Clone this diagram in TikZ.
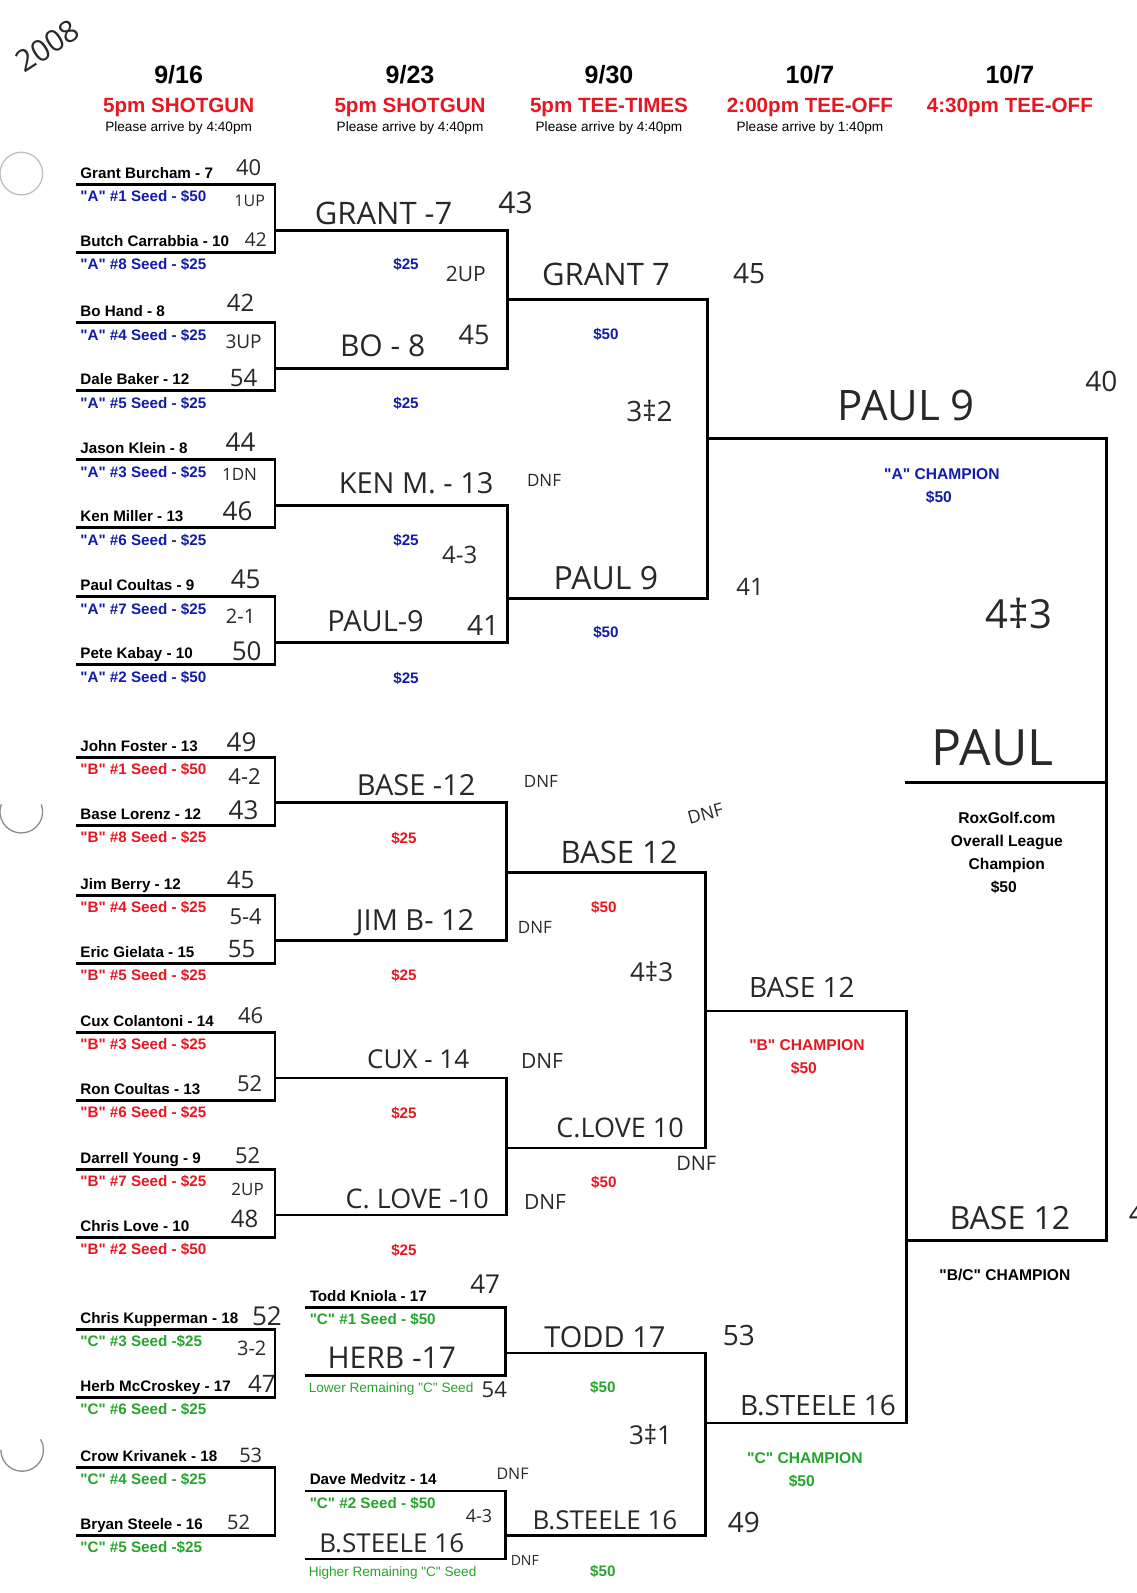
\documentclass[tikz,border=0pt]{standalone}
\usepackage{fontspec}
\setmainfont{Liberation Sans}[Ligatures=TeXOff]
\newfontfamily\hand{Open Sans}
\definecolor{hdrred}{RGB}{232,22,32}
\definecolor{ablue}{RGB}{18,28,168}
\definecolor{bred}{RGB}{232,22,32}
\definecolor{cgreen}{RGB}{38,164,44}
\definecolor{ink}{RGB}{40,40,44}
\newcommand\RoundOne[7]{%
  \coordinate (#1tl) at (76,#2);
  \coordinate (#1tr) at (271,#2);
  \coordinate (#1br) at (271,{#2+67});
  \coordinate (#1bl) at (76,{#2+67});
  \coordinate (#1out) at (271,{#2+45});
  \draw[br] (#1tl) -- (#1tr) -- (#1br) -- (#1bl);
  \node[pname] (#1n1) at (79,{#2-6}) {#3};
  \node[pname,text=#7] (#1s1) at (79,{#2+17}) {#4};
  \node[pname] (#1n2) at (79,{#2+61}) {#5};
  \node[pname,text=#7] (#1s2) at (79,{#2+84}) {#6};
}
\begin{document}
\begin{tikzpicture}[x=1.015pt,y=-1.015pt,
  br/.style={line width=2.8pt,line join=miter,line cap=rect},
  pname/.style={font=\bfseries\fontsize{15.2}{17}\selectfont,anchor=base west,inner sep=0pt},
  money/.style={font=\bfseries\fontsize{15.2}{17}\selectfont,anchor=base,inner sep=0pt},
  champ/.style={font=\bfseries\fontsize{15.6}{18}\selectfont,anchor=base,inner sep=0pt},
  note/.style={font=\fontsize{13.6}{15}\selectfont,anchor=base west,inner sep=0pt,text=cgreen},
  hdate/.style={font=\bfseries\fontsize{25}{28}\selectfont,anchor=base,inner sep=0pt},
  hred/.style={font=\bfseries\fontsize{20.6}{24}\selectfont,anchor=base,inner sep=0pt,text=hdrred},
  hsmall/.style={font=\fontsize{13.6}{15}\selectfont,anchor=base,inner sep=0pt},
  hw/.style={font=\hand\fontsize{#1}{#1}\selectfont,inner sep=0pt,text=ink},
  hole/.style={draw=black!45,line width=1.3pt}
]
\fill[white] (0,0) rectangle (1120.2,1569.5);
\useasboundingbox (0,0) rectangle (1120.2,1569.5);

% punch holes
\draw[hole,draw=black!25] (21,171) circle (21);
\draw[hole] (40.7,792.5) arc (-20:200:21);
\draw[hole] (40,1418) arc (-30:180:21);

% year
\node[hw=30,rotate=33] (yr) at (47,45) {2008};

% headers
\node[hdate] (d1) at (176,82) {9/16};
\node[hred]  (r1) at (176,111) {5pm SHOTGUN};
\node[hsmall](p1) at (176,130) {Please arrive by 4:40pm};
\node[hdate] (d2) at (404,82) {9/23};
\node[hred]  (r2) at (404,111) {5pm SHOTGUN};
\node[hsmall](p2) at (404,130) {Please arrive by 4:40pm};
\node[hdate] (d3) at (600,82) {9/30};
\node[hred]  (r3) at (600,111) {5pm TEE-TIMES};
\node[hsmall](p3) at (600,130) {Please arrive by 4:40pm};
\node[hdate] (d4) at (798,82) {10/7};
\node[hred]  (r4) at (798,111) {2:00pm TEE-OFF};
\node[hsmall](p4) at (798,130) {Please arrive by 1:40pm};
\node[hdate] (d5) at (995,82) {10/7};
\node[hred]  (r5) at (995,111) {4:30pm TEE-OFF};

% ---------- A flight, round 1
\RoundOne{A1}{182}{Grant Burcham - 7}{"A" \#1 Seed - \$50}{Butch Carrabbia - 10}{"A" \#8 Seed - \$25}{ablue}
\RoundOne{A2}{318}{Bo Hand - 8}{"A" \#4 Seed - \$25}{Dale Baker - 12}{"A" \#5 Seed - \$25}{ablue}
\RoundOne{A3}{453}{Jason Klein - 8}{"A" \#3 Seed - \$25}{Ken Miller - 13}{"A" \#6 Seed - \$25}{ablue}
\RoundOne{A4}{588}{Paul Coultas - 9}{"A" \#7 Seed - \$25}{Pete Kabay - 10}{"A" \#2 Seed - \$50}{ablue}

% A round 2
\coordinate (A12t) at (500,227); \coordinate (A12b) at (500,363);
\draw[br] (A1out) -- (A12t) -- (A12b) -- (A2out);
\coordinate (A34t) at (500,498); \coordinate (A34b) at (500,633);
\draw[br] (A3out) -- (A34t) -- (A34b) -- (A4out);
\node[money,text=ablue] (Am1) at (400,266) {\$25};
\node[money,text=ablue] (Am2) at (400,402) {\$25};
\node[money,text=ablue] (Am3) at (400,537) {\$25};
\node[money,text=ablue] (Am4) at (400,673) {\$25};

% A round 3
\coordinate (A3in1) at (500,295); \coordinate (A3in2) at (500,590);
\coordinate (A3t) at (697,295); \coordinate (A3b) at (697,590);
\draw[br] (A3in1) -- (A3t) -- (A3b) -- (A3in2);
\node[money,text=ablue] (Am5) at (597,334) {\$50};
\node[money,text=ablue] (Am6) at (597,628) {\$50};

% final
\coordinate (Aout) at (697,432); \coordinate (F1) at (1090,432);
\coordinate (F2) at (1090,1222); \coordinate (BCin) at (893,1222);
\draw[br] (Aout) -- (F1) -- (F2) -- (BCin);
\coordinate (OVl) at (893,771); \coordinate (OVr) at (1090,771);
\draw[br] (OVl) -- (OVr);
\node[champ,text=ablue] (Ach) at (928,472) {"A" CHAMPION};
\node[champ,text=ablue] (Ach2) at (925,495) {\$50};
\node[champ] (ov1) at (992,811) {RoxGolf.com};
\node[champ] (ov2) at (992,834) {Overall League};
\node[champ] (ov3) at (992,857) {Champion};
\node[champ] (ov4) at (989,879) {\$50};
\node[champ] (bcch) at (990,1262) {"B/C" CHAMPION};

% ---------- B flight, round 1
\RoundOne{B1}{746}{John Foster - 13}{"B" \#1 Seed - \$50}{Base Lorenz - 12}{"B" \#8 Seed - \$25}{bred}
\RoundOne{B2}{882}{Jim Berry - 12}{"B" \#4 Seed - \$25}{Eric Gielata - 15}{"B" \#5 Seed - \$25}{bred}
\RoundOne{B3}{1017}{Cux Colantoni - 14}{"B" \#3 Seed - \$25}{Ron Coultas - 13}{"B" \#6 Seed - \$25}{bred}
\RoundOne{B4}{1152}{Darrell Young - 9}{"B" \#7 Seed - \$25}{Chris Love - 10}{"B" \#2 Seed - \$50}{bred}

% B round 2
\coordinate (B12t) at (499,791); \coordinate (B12b) at (499,927);
\draw[br] (B1out) -- (B12t) -- (B12b) -- (B2out);
\coordinate (B34t) at (499,1062); \coordinate (B34b) at (499,1197);
\draw[br] (B3out) -- (B34t) -- (B34b) -- (B4out);
\node[money,text=bred] (Bm1) at (398,831) {\$25};
\node[money,text=bred] (Bm2) at (398,966) {\$25};
\node[money,text=bred] (Bm3) at (398,1102) {\$25};
\node[money,text=bred] (Bm4) at (398,1237) {\$25};

% B round 3
\coordinate (B3in1) at (499,860); \coordinate (B3in2) at (499,1131);
\coordinate (B3t) at (695,860); \coordinate (B3b) at (695,1131);
\draw[br] (B3in1) -- (B3t) -- (B3b) -- (B3in2);
\node[money,text=bred] (Bm5) at (595,899) {\$50};
\node[money,text=bred] (Bm6) at (595,1170) {\$50};

% B / C championship bracket
\coordinate (Bout) at (695,996); \coordinate (G1) at (893,996);
\coordinate (G2) at (893,1402); \coordinate (Cout) at (695,1402);
\draw[br] (Bout) -- (G1) -- (G2) -- (Cout);
\node[champ,text=bred] (Bch) at (795,1035) {"B" CHAMPION};
\node[champ,text=bred] (Bch2) at (792,1058) {\$50};
\node[champ,text=cgreen] (Cch) at (793,1442) {"C" CHAMPION};
\node[champ,text=cgreen] (Cch2) at (790,1465) {\$50};

% ---------- C flight, round 1
\coordinate (C1tl) at (76,1310); \coordinate (C1tr) at (271,1310);
\coordinate (C1br) at (271,1377); \coordinate (C1bl) at (76,1377);
\draw[br] (C1tl) -- (C1tr) -- (C1br) -- (C1bl);
\node[pname] (C1n1) at (79,1304) {Chris Kupperman - 18};
\node[pname,text=cgreen] (C1s1) at (79,1327) {"C" \#3 Seed -\$25};
\node[pname] (C1n2) at (79,1371) {Herb McCroskey - 17};
\node[pname,text=cgreen] (C1s2) at (79,1394) {"C" \#6 Seed - \$25};
\coordinate (C2tl) at (76,1446); \coordinate (C2tr) at (271,1446);
\coordinate (C2br) at (271,1513); \coordinate (C2bl) at (76,1513);
\draw[br] (C2tl) -- (C2tr) -- (C2br) -- (C2bl);
\node[pname] (C2n1) at (79,1440) {Crow Krivanek - 18};
\node[pname,text=cgreen] (C2s1) at (79,1463) {"C" \#4 Seed - \$25};
\node[pname] (C2n2) at (79,1507) {Bryan Steele - 16};
\node[pname,text=cgreen] (C2s2) at (79,1530) {"C" \#5 Seed -\$25};

% C round 2
\coordinate (C3tl) at (302,1288); \coordinate (C3tr) at (498,1288);
\coordinate (C3br) at (498,1355); \coordinate (C3bl) at (302,1355);
\draw[br] (C3tl) -- (C3tr) -- (C3br) -- (C3bl);
\node[pname] (C3n1) at (305,1282) {Todd Kniola - 17};
\node[pname,text=cgreen] (C3s1) at (305,1305) {"C" \#1 Seed - \$50};
\node[note] (C3s2) at (304,1372) {Lower Remaining "C" Seed};
\coordinate (C4tl) at (302,1469); \coordinate (C4tr) at (498,1469);
\coordinate (C4br) at (498,1536); \coordinate (C4bl) at (302,1536);
\draw[br] (C4tl) -- (C4tr) -- (C4br) -- (C4bl);
\node[pname] (C4n1) at (305,1463) {Dave Medvitz - 14};
\node[pname,text=cgreen] (C4s1) at (305,1486) {"C" \#2 Seed - \$50};
\node[note] (C4s2) at (304,1553) {Higher Remaining "C" Seed};

% C round 3
\coordinate (C5in1) at (498,1333); \coordinate (C5in2) at (498,1513);
\coordinate (C5t) at (695,1333); \coordinate (C5b) at (695,1513);
\draw[br] (C5in1) -- (C5t) -- (C5b) -- (C5in2);
\node[money,text=cgreen] (Cm1) at (594,1372) {\$50};
\node[money,text=cgreen] (Cm2) at (594,1553) {\$50};

% ---------- handwriting, A
\node[hw=22] (h1) at (245,165) {40};
\node[hw=16] (h2) at (246,198) {1UP};
\node[hw=19] (h3) at (252,236) {42};
\node[hw=31] (h4) at (378,210) {GRANT -7};
\node[hw=30] (h5) at (508,200) {43};
\node[hw=21] (h6) at (459,270) {2UP};
\node[hw=24] (h7) at (237,298) {42};
\node[hw=19] (h8) at (240,337) {3UP};
\node[hw=24] (h9) at (240,372) {54};
\node[hw=30] (h10) at (377,341) {BO - 8};
\node[hw=27] (h11) at (467,330) {45};
\node[hw=31] (h12) at (597,270) {GRANT 7};
\node[hw=28] (h13) at (738,270) {45};
\node[hw=28] (h14) at (640,405) {3‡2};
\node[hw=42] (h15) at (893,400) {PAUL 9};
\node[hw=28] (h16) at (1085,376) {40};
\node[hw=26] (h17) at (237,436) {44};
\node[hw=17] (h18) at (236,467) {1DN};
\node[hw=26] (h19) at (234,504) {46};
\node[hw=29] (h20) at (410,476) {KEN M. - 13};
\node[hw=17] (h21) at (536,473) {DNF};
\node[hw=24] (h22) at (453,547) {4-3};
\node[hw=26] (h23) at (242,571) {45};
\node[hw=20] (h24) at (237,607) {2-1};
\node[hw=26] (h25) at (243,642) {50};
\node[hw=29] (h26) at (370,612) {PAUL-9};
\node[hw=28] (h27) at (476,616) {41};
\node[hw=32] (h28) at (597,570) {PAUL 9};
\node[hw=24] (h29) at (739,578) {41};
\node[hw=40] (h30) at (1004,604) {4‡3};
\node[hw=50] (h31) at (978,737) {PAUL};

% handwriting, B
\node[hw=26] (h32) at (238,731) {49};
\node[hw=22] (h33) at (241,765) {4-2};
\node[hw=26] (h34) at (240,798) {43};
\node[hw=24] (h35) at (237,867) {45};
\node[hw=22] (h36) at (242,903) {5-4};
\node[hw=24] (h37) at (238,935) {55};
\node[hw=22] (h38) at (247,1001) {46};
\node[hw=22] (h39) at (246,1068) {52};
\node[hw=22] (h40) at (244,1139) {52};
\node[hw=17] (h41) at (244,1172) {2UP};
\node[hw=24] (h42) at (241,1201) {48};
\node[hw=29] (h43) at (410,774) {BASE -12};
\node[hw=17] (h44) at (533,770) {DNF};
\node[hw=29] (h45) at (409,909) {JIM B- 12};
\node[hw=17] (h46) at (527,914) {DNF};
\node[hw=31] (h47) at (610,840) {BASE 12};
\node[hw=18,rotate=15] (h48) at (695,802) {DNF};
\node[hw=26] (h49) at (642,957) {4‡3};
\node[hw=28] (h50) at (790,973) {BASE 12};
\node[hw=26] (h51) at (412,1044) {CUX - 14};
\node[hw=21] (h52) at (534,1045) {DNF};
\node[hw=27] (h53) at (611,1111) {C.LOVE 10};
\node[hw=20] (h54) at (686,1146) {DNF};
\node[hw=27] (h55) at (411,1181) {C. LOVE -10};
\node[hw=21] (h56) at (537,1184) {DNF};
\node[hw=32] (h57) at (995,1200) {BASE 12};
\node[hw=28,anchor=west] (h58) at (1112,1196) {4};

% handwriting, C
\node[hw=26] (h59) at (263,1297) {52};
\node[hw=20] (h60) at (248,1328) {3-2};
\node[hw=24] (h61) at (258,1363) {47};
\node[hw=20] (h62) at (247,1434) {53};
\node[hw=20] (h63) at (235,1500) {52};
\node[hw=26] (h64) at (478,1265) {47};
\node[hw=30] (h65) at (386,1338) {HERB -17};
\node[hw=22] (h66) at (487,1369) {54};
\node[hw=29] (h67) at (596,1317) {TODD 17};
\node[hw=28] (h68) at (728,1316) {53};
\node[hw=26] (h69) at (641,1414) {3‡1};
\node[hw=28] (h70) at (806,1385) {B.STEELE 16};
\node[hw=16] (h71) at (505,1452) {DNF};
\node[hw=18] (h72) at (472,1494) {4-3};
\node[hw=26] (h73) at (386,1520) {B.STEELE 16};
\node[hw=14] (h74) at (517,1537) {DNF};
\node[hw=26] (h75) at (596,1498) {B.STEELE 16};
\node[hw=28] (h76) at (733,1500) {49};
\end{tikzpicture}
\end{document}
